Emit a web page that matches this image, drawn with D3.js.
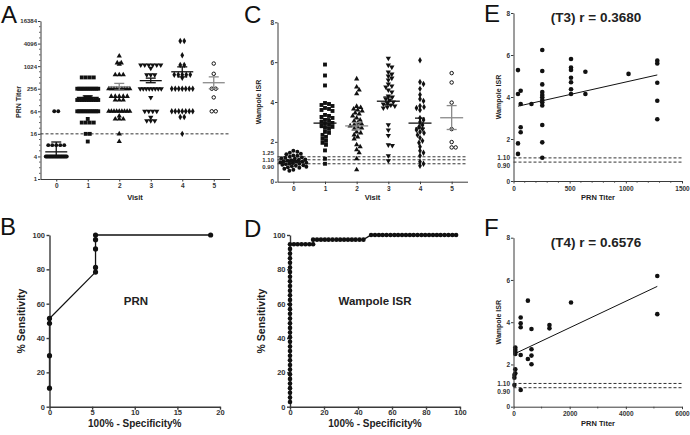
<!DOCTYPE html>
<html><head><meta charset="utf-8">
<script src="https://cdn.jsdelivr.net/npm/d3@7"></script>
<style>body{margin:0;background:#fff} svg{display:block}</style>
</head><body><svg id="c" width="690" height="435"></svg>
<script>
// ================= DATA =================
const visits = [0,1,2,3,4,5];
const visitShapes = ["circle","square","up","down","diamond","open"];

// Panel A : PRN titer by visit
const titerV0 = [64,64,8,8,8,8,8,4,4,4,4,4,4,4,4,4,4,4,4,4,4,4,4,4,4,4,4];
const titerV1 = [512,512,512,512,256,256,256,256,256,256,256,256,256,256,256,256,150,150,128,128,128,128,128,128,128,128,128,128,64,64,64,64,64,64,64,64,64,64,64,64,40,32,32,32,32,16,16,10];
const titerV2 = [1900,1250,1250,1150,600,600,600,256,256,256,256,256,256,256,256,256,160,160,160,160,160,128,128,128,64,64,64,64,64,64,64,64,64,48,40,40,40,16,10];
const titerV3 = [1100,1100,1100,1100,1100,1100,900,600,600,600,256,256,256,256,256,256,256,256,150,64,64,64,64,44,36,36,36];
const titerV4 = [4800,4800,2000,1100,1100,600,600,600,600,600,500,256,256,256,256,256,256,256,64,64,64,64,64,64,64,45,45,16];
const titerV5 = [1200,640,256,256,150,64,64];
const titerMean = [5.3,150,288,420,724,370];
const titerLo   = [4,137,234,370,530,256];
const titerHi   = [9.7,165,355,490,980,530];
const titerTicks = [1,4,16,64,256,1024,4096,16384];
const titerCutoff = 16;

// Panel C : Wampole ISR by visit
const isrV0 = [1.55,1.5,1.45,1.4,1.38,1.32,1.3,1.25,1.22,1.2,1.18,1.15,1.12,1.1,1.08,1.05,1.02,1.0,1.0,0.98,0.95,0.93,0.9,0.9,0.88,0.85,0.82,0.8,0.78,0.75,0.72,0.7,0.65,0.6,0.55];
const isrV1 = [5.88,5.33,4.83,3.95,3.9,3.85,3.8,3.7,3.65,3.6,3.55,3.35,3.3,3.25,3.2,3.1,3.05,3.0,2.95,2.9,2.85,2.8,2.75,2.7,2.65,2.5,2.45,2.35,2.25,2.15,2.05,1.95,1.85,1.57,1.15,0.9];
const isrV2 = [5.16,4.75,4.6,4.41,3.78,3.72,3.65,3.6,3.55,3.45,3.4,3.3,3.2,3.1,3.05,2.95,2.9,2.85,2.8,2.75,2.7,2.65,2.5,2.45,2.35,2.25,2.15,1.85,1.75,1.6,1.45,1.15,0.6];
const isrV3 = [6.2,5.85,5.75,5.5,5.4,5.3,5.2,5.1,4.9,4.8,4.75,4.6,4.5,4.3,4.25,4.15,4.1,4.0,3.95,3.9,3.85,3.8,3.75,3.7,2.86,2.6,2.32,1.85,1.82,1.3,1.05];
const isrV4 = [6.1,5.0,4.9,4.66,4.36,4.15,4.05,3.8,3.75,3.7,3.6,3.2,3.1,3.0,2.85,2.75,2.65,2.6,2.5,2.45,2.35,2.2,2.05,1.95,1.75,1.55,1.45,1.3,1.0,0.9,0.8];
const isrV5 = [5.45,4.98,3.97,2.64,1.99,1.72,1.72];
const isrMean = [1.02,2.94,2.8,4.04,2.94,3.21];
const isrLo   = [0.98,2.72,2.6,3.86,2.69,2.62];
const isrHi   = [1.06,3.16,2.97,4.25,3.19,3.82];
const isrTicks = [0,2,4,6,8];
const isrCutoffs = [1.25,1.10,0.90];
const isrCutoffLabels = ["1.25","1.10","0.90"];

// Panel E : T3 titer vs ISR
const t3Titer = [40,40,64,64,160,64,64,40,40,256,256,256,256,256,256,256,256,256,256,256,256,512,512,512,512,512,512,512,640,640,1024,1280,1280,1280,1280,1280];
const t3Isr   = [5.28,4.14,4.3,3.67,3.67,2.56,2.32,1.79,1.29,6.24,5.24,4.6,4.24,4.1,3.99,3.86,3.75,3.6,2.67,1.84,1.11,5.81,5.4,5.29,4.92,4.7,4.37,4.14,5.2,4.14,5.1,5.73,5.6,4.68,3.82,2.94];
const t3Fit = [3.514,0.0012];       // intercept, slope
const t3FitRange = [40,1280];
const t3Title = "(T3) r = 0.3680";

// Panel F : T4 titer vs ISR
const t4Titer = [5120,5120,2048,1280,1280,640,640,640,640,512,512,256,256,256,256,256,64,64,64,64,64,64,32,32,32];
const t4Isr   = [6.19,4.38,4.93,3.87,3.71,3.68,2.72,2.42,2.01,5.02,2.26,4.22,3.95,3.76,2.45,0.79,2.8,2.7,2.6,2.5,1.77,1.58,1.5,1.37,1.03];
const t4Fit = [2.48,0.000628];
const t4FitRange = [32,5120];
const t4Title = "(T4) r = 0.6576";
const scatterCutoffs = [1.10,0.90];
const scatterCutoffLabels = ["1.10","0.90"];

// Panel B : ROC PRN
const rocPrnX = [0,0,0,0,5.4,5.4,5.4,5.4,5.4,18.9];
const rocPrnY = [10.8,29.7,48.6,51.4,78.4,81.1,91.9,97.3,100,100];

// Panel D : ROC Wampole ISR
const rocIsrX = [0,0,0,0,0,0,0,0,0,0,0,0,0,0,0,0,0,0,0,0,0,0,0,0,0,0,0,0,0,0,0,0,0,0,0,
  2.3,4.5,6.8,9.1,11.4,13.6,
  13.6,15.9,18.2,20.5,22.7,25.0,27.3,29.5,31.8,34.1,36.4,38.6,40.9,43.2,
  47.7,50.0,52.3,54.5,56.8,59.1,61.4,63.6,65.9,68.2,70.5,72.7,75.0,77.3,79.5,81.8,84.1,86.4,88.6,90.9,93.2,95.5,97.7];
const rocIsrY = [2.7,5.4,8.1,10.8,13.5,16.2,18.9,21.6,24.3,27.0,29.7,32.4,35.1,37.8,40.5,43.2,45.9,48.6,51.4,54.1,56.8,59.5,62.2,64.9,67.6,70.3,73.0,75.7,78.4,81.1,83.8,86.5,89.2,91.9,94.6,
  94.6,94.6,94.6,94.6,94.6,94.6,
  97.3,97.3,97.3,97.3,97.3,97.3,97.3,97.3,97.3,97.3,97.3,97.3,97.3,97.3,
  100,100,100,100,100,100,100,100,100,100,100,100,100,100,100,100,100,100,100,100,100,100,100];

// ================= DRAWING =================
const FONT = "'Liberation Sans', Arial, Helvetica, sans-serif";
const AX = "#3a3a3a";
const svg = d3.select("#c").attr("font-family", FONT);

function styleAxis(g, fs, sw) {
  g.selectAll("path,line").attr("stroke", AX).attr("stroke-width", sw || 1);
  g.selectAll("text").attr("font-size", fs).attr("font-weight", "bold").attr("fill", "#333").attr("font-family", FONT);
}
function label(x, y, s, fs, opts) {
  opts = opts || {};
  const t = svg.append("text").attr("x", x).attr("y", y).text(s)
    .attr("font-size", fs).attr("font-weight", opts.weight || "bold")
    .attr("fill", opts.fill || "#222").attr("text-anchor", opts.anchor || "middle");
  if (opts.rotate) t.attr("transform", `rotate(-90,${x},${y})`);
  return t;
}
function symGen(shape, size) {
  const type = shape === "square" ? d3.symbolSquare : shape === "diamond" ? d3.symbolDiamond :
               (shape === "up" || shape === "down") ? d3.symbolTriangle : d3.symbolCircle;
  return d3.symbol().type(type).size(size);
}
function drawSym(g, pts, shape, size) {
  const gen = symGen(shape, shape === "open" ? size * 0.8 : size);
  g.selectAll(null).data(pts).join("path").attr("d", gen)
    .attr("transform", d => `translate(${d.x},${d.y})${shape === "down" ? " rotate(180)" : ""}`)
    .attr("fill", shape === "open" ? "#fff" : "#111")
    .attr("stroke", shape === "open" ? "#111" : "none").attr("stroke-width", 1);
}
// rows of identical values spread evenly (GraphPad style)
function rowSpread(vals, yf, cx, spacing, maxHalf) {
  const groups = d3.group(vals.map(v => ({v, y: yf(v)})), d => Math.round(d.y));
  const out = [];
  for (const [, arr] of groups) {
    const n = arr.length;
    const sp = n > 1 ? Math.min(spacing, 2 * maxHalf / (n - 1)) : 0;
    arr.forEach((d, i) => out.push({x: cx + (i - (n - 1) / 2) * sp, y: d.y}));
  }
  return out;
}
// simple beeswarm
function swarm(vals, yf, cx, dia, maxHalf) {
  const pts = vals.map(v => ({y: yf(v)})).sort((a, b) => a.y - b.y);
  const placed = [];
  for (const p of pts) {
    let best = null, bestScore = -1;
    for (let k = 0; k <= maxHalf * 4; k++) {
      const cands = k === 0 ? [0] : [k * 0.5, -k * 0.5];
      let done = false;
      for (const o of cands) {
        if (Math.abs(o) > maxHalf) continue;
        let md = Infinity;
        for (const q of placed) md = Math.min(md, Math.hypot(q.x - (cx + o), q.y - p.y));
        if (md >= dia) { best = o; done = true; break; }
        if (md > bestScore) { bestScore = md; best = o; }
      }
      if (done) break;
    }
    p.x = cx + best; placed.push(p);
  }
  return placed;
}
function errBars(g, xs, ys, mean, lo, hi, colors, halfMean, halfCap) {
  xs.forEach((x, i) => {
    const c = colors[i];
    const gg = g.append("g").attr("stroke", c).attr("stroke-width", 1.3);
    gg.append("line").attr("x1", x).attr("x2", x).attr("y1", ys(lo[i])).attr("y2", ys(hi[i]));
    gg.append("line").attr("x1", x - halfCap).attr("x2", x + halfCap).attr("y1", ys(lo[i])).attr("y2", ys(lo[i]));
    gg.append("line").attr("x1", x - halfCap).attr("x2", x + halfCap).attr("y1", ys(hi[i])).attr("y2", ys(hi[i]));
    gg.append("line").attr("x1", x - halfMean).attr("x2", x + halfMean).attr("y1", ys(mean[i])).attr("y2", ys(mean[i]));
  });
}
function dashed(g, x1, x2, y) {
  g.append("line").attr("x1", x1).attr("x2", x2).attr("y1", y).attr("y2", y)
    .attr("stroke", "#333").attr("stroke-width", 1).attr("stroke-dasharray", "3,2");
}
const meanColors = ["#111", "#111", "#8a8a8a", "#111", "#111", "#8a8a8a"];

// ---------- Panel A ----------
(function () {
  const x = d3.scaleLinear().domain([-0.5, 5.5]).range([40.5, 229.5]);
  const y = d3.scaleLog().base(2).domain([1, 16384]).range([179, 21]);
  const g = svg.append("g");
  dashed(g, 40.5, 229.5, y(titerCutoff));
  const groups = [titerV0, titerV1, titerV2, titerV3, titerV4, titerV5];
  groups.forEach((vals, i) => {
    const pts = rowSpread(vals, y, x(visits[i]), 4, 10.5);
    drawSym(g, pts, visitShapes[i], visitShapes[i] === "square" ? 15 : 12);
  });
  errBars(g, visits.map(v => x(v)), y, titerMean, titerLo, titerHi, meanColors, 11, 5);
  const minor = d3.range(0, 14.01, 0.5).map(k => Math.pow(2, k)).filter(v => !titerTicks.includes(v));
  g.append("g").selectAll(null).data(minor).join("line")
    .attr("x1", 39).attr("x2", 40.5).attr("y1", d => y(d)).attr("y2", d => y(d)).attr("stroke", AX).attr("stroke-width", 0.8);
  const ya = g.append("g").attr("transform", "translate(40.5,0)")
    .call(d3.axisLeft(y).tickValues(titerTicks).tickFormat(d => d).tickSize(2.5).tickPadding(1).tickSizeOuter(0));
  styleAxis(ya, 6);
  const xa = g.append("g").attr("transform", "translate(0,179)")
    .call(d3.axisBottom(x).tickValues(visits).tickFormat(d => d).tickSize(2.5).tickPadding(2).tickSizeOuter(0));
  styleAxis(xa, 6.5);
  label(135, 200, "Visit", 7.5);
  label(21, 102, "PRN  Titer", 7, {rotate: true});
  label(1, 23, "A", 24, {weight: "normal", anchor: "start", fill: "#111"});
})();

// ---------- Panel C ----------
(function () {
  const x = d3.scaleLinear().domain([-0.5, 5.5]).range([277.5, 467.5]);
  const y = d3.scaleLinear().domain([0, 8]).range([181.7, 22.3]);
  const g = svg.append("g");
  isrCutoffs.forEach(v => dashed(g, 277.5, 467.5, y(v)));
  const groups = [isrV0, isrV1, isrV2, isrV3, isrV4, isrV5];
  groups.forEach((vals, i) => {
    const pts = swarm(vals, y, x(visits[i]), 3.7, 13);
    drawSym(g, pts, visitShapes[i], visitShapes[i] === "square" ? 15 : 12);
  });
  errBars(g, visits.map(v => x(v)), y, isrMean, isrLo, isrHi, meanColors, 11.5, 5);
  const ya = g.append("g").attr("transform", "translate(277.5,0)")
    .call(d3.axisLeft(y).tickValues(isrTicks).tickFormat(d => d).tickSize(2.5).tickPadding(1).tickSizeOuter(0));
  styleAxis(ya, 6.5);
  isrCutoffs.forEach((v, i) => {
    g.append("text").attr("x", 274).attr("y", y(isrCutoffs[1]) + (i - 1) * 6.7).attr("dy", "0.35em")
      .attr("text-anchor", "end").attr("font-size", 6).attr("font-weight", "bold").attr("fill", "#333").text(isrCutoffLabels[i]);
  });
  const xa = g.append("g").attr("transform", `translate(0,${y(0)})`)
    .call(d3.axisBottom(x).tickValues(visits).tickFormat(d => d).tickSize(2.5).tickPadding(2.5).tickSizeOuter(0));
  styleAxis(xa, 6.5);
  label(372.5, 200, "Visit", 7.5);
  label(261, 102, "Wampole ISR", 7, {rotate: true});
  label(244, 23, "C", 24, {weight: "normal", anchor: "start", fill: "#111"});
})();

// ---------- Scatter panels E, F ----------
function scatterPanel(tx, ty, fit, fitRange, title, xMax, xTicks, minorStep, y0, y8, titleY, xlabY) {
  const x = d3.scaleLinear().domain([0, xMax]).range([513.5, 682]);
  const y = d3.scaleLinear().domain([0, 8]).range([y0, y8]);
  const g = svg.append("g");
  scatterCutoffs.forEach(v => dashed(g, 513.5, 682, y(v)));
  g.append("line").attr("x1", x(fitRange[0])).attr("x2", x(fitRange[1]))
    .attr("y1", y(fit[0] + fit[1] * fitRange[0])).attr("y2", y(fit[0] + fit[1] * fitRange[1]))
    .attr("stroke", "#111").attr("stroke-width", 1);
  g.selectAll(null).data(tx.map((t, i) => [t, ty[i]])).join("circle")
    .attr("cx", d => x(d[0])).attr("cy", d => y(d[1])).attr("r", 2.3).attr("fill", "#111");
  const minor = d3.range(minorStep, xMax, minorStep).filter(v => !xTicks.includes(v));
  g.append("g").selectAll(null).data(minor).join("line")
    .attr("x1", d => x(d)).attr("x2", d => x(d)).attr("y1", y0).attr("y2", y0 + 1.8).attr("stroke", AX).attr("stroke-width", 0.8);
  const ya = g.append("g").attr("transform", "translate(513.5,0)")
    .call(d3.axisLeft(y).tickValues(isrTicks).tickFormat(d => d).tickSize(2.5).tickPadding(1).tickSizeOuter(0));
  styleAxis(ya, 6.5);
  scatterCutoffs.forEach((v, i) => {
    g.append("text").attr("x", 510).attr("y", y(scatterCutoffs[0]) + i * 8.2).attr("dy", "0.35em")
      .attr("text-anchor", "end").attr("font-size", 6.5).attr("font-weight", "bold").attr("fill", "#333").text(scatterCutoffLabels[i]);
  });
  const xa = g.append("g").attr("transform", `translate(0,${y0})`)
    .call(d3.axisBottom(x).tickValues(xTicks).tickFormat(d => d).tickSize(2.5).tickPadding(2.5).tickSizeOuter(0));
  styleAxis(xa, 6.5);
  label(598, xlabY, "PRN Titer", 7.5);
  label(501, (y0 + y8) / 2, "Wampole ISR", 7, {rotate: true});
  label(596, titleY, title, 13.5);
}
scatterPanel(t3Titer, t3Isr, t3Fit, t3FitRange, t3Title, 1500, [0, 500, 1000, 1500], 100, 181, 13, 21.5, 199.5);
label(484, 22, "E", 24, {weight: "normal", anchor: "start", fill: "#111"});
scatterPanel(t4Titer, t4Isr, t4Fit, t4FitRange, t4Title, 6000, [0, 2000, 4000, 6000], 1000, 406.7, 237.7, 246.5, 426);
label(484, 236, "F", 24, {weight: "normal", anchor: "start", fill: "#111"});

// ---------- ROC panels B, D ----------
function rocPanel(rx, ry, x0, x1, xMax, xTicks, r, name, nameX) {
  const x = d3.scaleLinear().domain([0, xMax]).range([x0, x1]);
  const y = d3.scaleLinear().domain([0, 100]).range([406.7, 235]);
  const g = svg.append("g");
  const pts = rx.map((v, i) => [v, ry[i]]);
  g.append("path").attr("d", d3.line().x(d => x(d[0])).y(d => y(d[1]))(pts))
    .attr("fill", "none").attr("stroke", "#111").attr("stroke-width", 1.3);
  const ya = g.append("g").attr("transform", `translate(${x0},0)`)
    .call(d3.axisLeft(y).tickValues([0, 20, 40, 60, 80, 100]).tickSize(3).tickPadding(1.5).tickSizeOuter(0));
  styleAxis(ya, 7.5, 1.4);
  const xa = g.append("g").attr("transform", "translate(0,406.7)")
    .call(d3.axisBottom(x).tickValues(xTicks).tickSize(3).tickPadding(0).tickSizeOuter(0));
  styleAxis(xa, 7.5, 1.4);
  g.selectAll(null).data(pts).join("circle")
    .attr("cx", d => x(d[0])).attr("cy", d => y(d[1])).attr("r", r).attr("fill", "#111");
  label((x0 + x1) / 2, 426.5, "100% - Specificity%", 10);
  label(x0 - 25, 321, "% Sensitivity", 10.5, {rotate: true});
  label(nameX, 305, name, 11.5);
}
rocPanel(rocPrnX, rocPrnY, 49.5, 220, 20, [0, 5, 10, 15, 20], 2.6, "PRN", 136);
label(0, 235, "B", 24, {weight: "normal", anchor: "start", fill: "#111"});
rocPanel(rocIsrX, rocIsrY, 290, 460, 100, [0, 20, 40, 60, 80, 100], 2.3, "Wampole ISR", 375);
label(244, 237, "D", 24, {weight: "normal", anchor: "start", fill: "#111"});
</script></body></html>
